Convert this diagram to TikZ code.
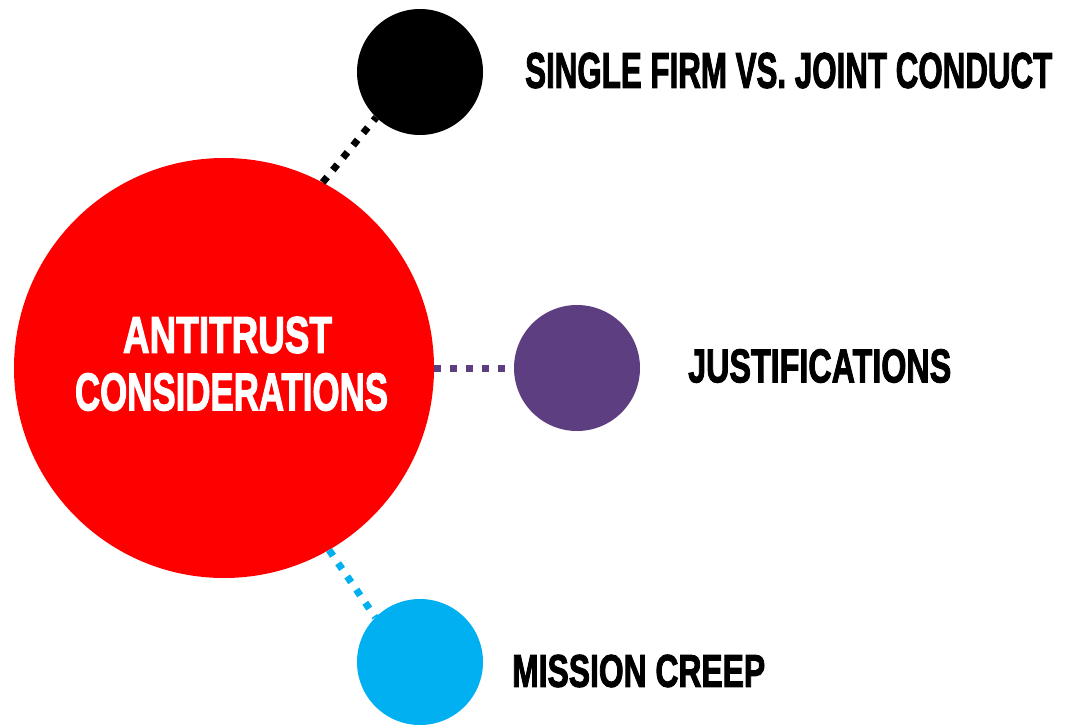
\documentclass[tikz,border=0pt]{standalone}
\usepackage{fontspec}
\setmainfont{Liberation Sans}[BoldFeatures={FakeBold=2.5}]
\usepackage{graphicx}
\definecolor{bigred}{HTML}{FF0000}
\definecolor{purp}{HTML}{5D3E80}
\definecolor{sky}{HTML}{00B0F0}
\newcommand{\fittext}[3]{\resizebox{#1pt}{#2pt}{\bfseries #3}}
\tikzset{
  hub/.style={circle, fill=bigred, draw=none, minimum size=420pt, inner sep=0pt},
  leaf/.style={circle, draw=none, minimum size=126pt, inner sep=0pt},
  lbl/.style={anchor=west, inner sep=0pt, text=black},
  dots/.style={line width=7pt, dash pattern=on 7pt off 9pt, line cap=butt}
}
\begin{document}
\begin{tikzpicture}[x=1pt,y=-1pt]
\useasboundingbox (0,0) rectangle (1070,725);
\node[hub] (hub) at (224,368) {};
\node[leaf, fill=black] (a) at (420,72) {};
\node[leaf, fill=purp] (b) at (577,368) {};
\node[leaf, fill=sky] (c) at (420,662) {};
\draw[dots, black] (hub.62) -- (a.226);
\draw[dots, purp] (hub.east) -- (b.west);
\draw[dots, sky] (hub.-60) -- (c.135);
\node[inner sep=0pt, text=white, anchor=center] (t1) at (227.5,335) {\fittext{209}{36}{ANTITRUST}};
\node[inner sep=0pt, text=white, anchor=center] (t2) at (231.5,392) {\fittext{313}{37}{CONSIDERATIONS}};
\node[lbl] (la) at (525,70.5) {\fittext{527}{35}{SINGLE FIRM VS. JOINT CONDUCT}};
\node[lbl] (lb) at (688,366) {\fittext{263}{33}{JUSTIFICATIONS}};
\node[lbl] (lc) at (512,671) {\fittext{253}{32}{MISSION CREEP}};
\end{tikzpicture}
\end{document}
